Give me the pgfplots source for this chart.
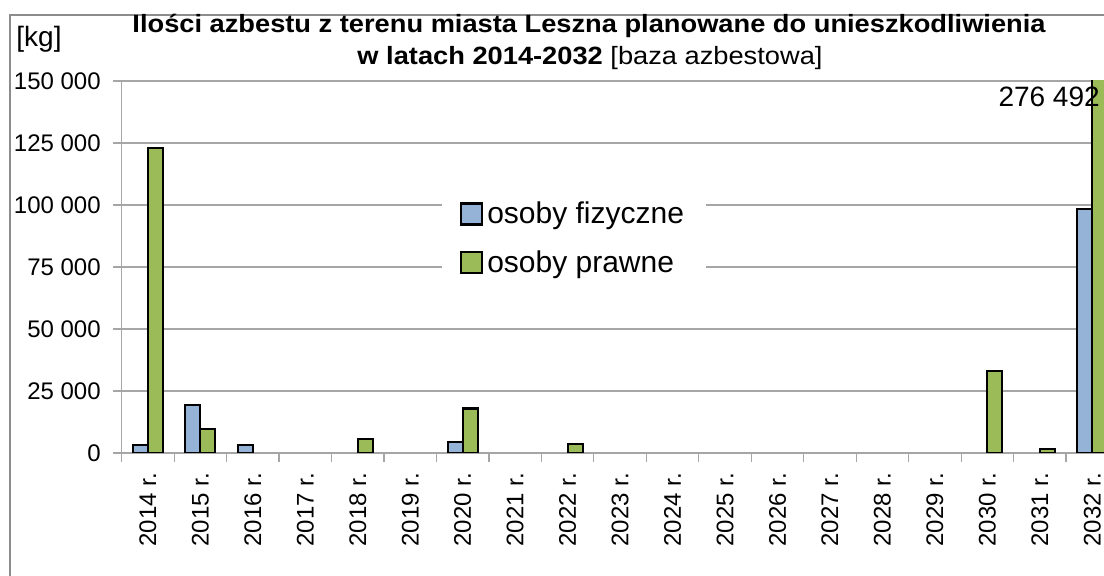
\documentclass[border=0pt]{standalone}
\usepackage{fontspec}
\setmainfont{Liberation Sans}
\usepackage{pgfplots}
\usepackage{pgfplotstable}
\pgfplotsset{compat=1.18}

\definecolor{fiz}{HTML}{95B3D7}
\definecolor{praw}{HTML}{9BBB59}
\definecolor{siatka}{HTML}{A6A6A6}
\definecolor{ramka}{HTML}{8C8C8C}

% 0 = 2014 r., ..., 18 = 2032 r.; nan = brak wartosci
\pgfplotstableread{
x fiz praw
0 3200 123000
1 19500 9800
2 3200 nan
3 nan nan
4 nan 5800
5 nan nan
6 4300 17900
7 nan nan
8 nan 3500
9 nan nan
10 nan nan
11 nan nan
12 nan nan
13 nan nan
14 nan nan
15 nan nan
16 nan 33200
17 nan 1700
18 98400 276492
}\dane

\begin{document}
\begin{tikzpicture}
\useasboundingbox (0,0) rectangle (552pt,288pt);
\clip (0,0) rectangle (552pt,288pt);
\draw[ramka, line width=0.75pt] (5pt,280.5pt) rectangle (570pt,-20pt);

\node[anchor=base west, inner sep=0pt, font=\fontsize{14}{16}\selectfont] at (8pt,264.5pt) {[kg]};
\node[anchor=base, inner sep=0pt, font=\fontsize{12.5}{15}\selectfont\bfseries] at (294.5pt,271.5pt)
  {\scalebox{1.09}[1]{Ilości azbestu z terenu miasta Leszna planowane do unieszkodliwienia}};
\node[anchor=base, inner sep=0pt, font=\fontsize{12.5}{15}\selectfont] at (295pt,255.5pt)
  {\scalebox{1.09}[1]{\textbf{w latach 2014-2032} [baza azbestowa]}};

\begin{axis}[
  at={(60.85pt,61.5pt)}, anchor=south west,
  scale only axis, width=498.4pt, height=186pt,
  xmin=-0.5, xmax=18.5, ymin=0, ymax=150000,
  ybar=0pt, bar width=7.5pt,
  axis lines*=left,
  axis line style={siatka, line width=0.6pt},
  tick style={siatka, line width=0.6pt},
  tick align=outside, major tick length=4.3pt,
  ytick={0,25000,50000,75000,100000,125000,150000},
  yticklabels={0,25 000,50 000,75 000,100 000,125 000,150 000},
  scaled y ticks=false,
  ymajorgrids, grid style={siatka, line width=0.6pt},
  xtick={-0.5,0.5,...,18.5},
  x tick label as interval,
  xticklabels={2014 r.,2015 r.,2016 r.,2017 r.,2018 r.,2019 r.,2020 r.,2021 r.,2022 r.,2023 r.,2024 r.,2025 r.,2026 r.,2027 r.,2028 r.,2029 r.,2030 r.,2031 r.,2032 r.},
  xticklabel style={rotate=90, anchor=east, inner sep=0pt, font=\fontsize{12}{14}\selectfont, xshift=-5.5pt},
  yticklabel style={font=\fontsize{12}{14}\selectfont, inner sep=0pt, xshift=-6pt},
  area legend,
  legend image code/.code={\draw[#1] (0pt,-5.25pt) rectangle (10.5pt,5.25pt);},
  legend style={at={(0.321,0.72)}, anchor=north west, draw=none, fill=white,
    font=\fontsize{15}{18}\selectfont, row sep=8pt, inner xsep=9pt, inner ysep=6pt},
  legend cell align=left,
]
\addplot[fill=fiz, draw=black, line width=1.1pt] table[x=x, y=fiz] {\dane};
\addlegendentry{osoby fizyczne}
\addplot[fill=praw, draw=black, line width=1.1pt] table[x=x, y=praw] {\dane};
\addlegendentry{osoby prawne}
\node[anchor=north east, inner sep=0pt, font=\fontsize{14}{16}\selectfont] at (axis cs:18.15,150000) [yshift=-3pt] {276 492};
\end{axis}
\end{tikzpicture}
\end{document}
